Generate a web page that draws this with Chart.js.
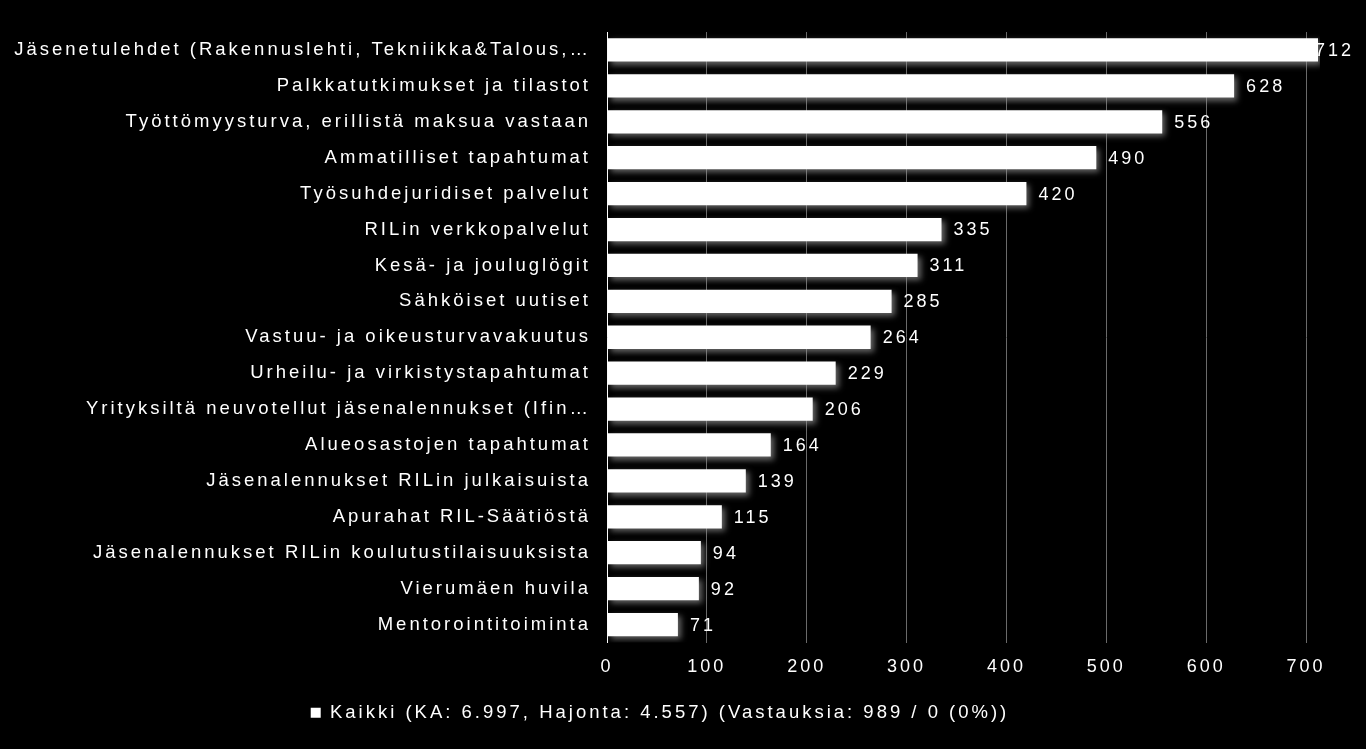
<!DOCTYPE html>
<html>
<head>
<meta charset="utf-8">
<script src="https://cdn.jsdelivr.net/npm/chart.js@4"></script>
<style>
  html, body { margin: 0; padding: 0; background: #000; }
  #wrap { width: 1366px; height: 749px; }
</style>
</head>
<body>
<div id="wrap"><canvas id="grafico"></canvas></div>
<script>
// Data
const categories = [
  'Jäsenetulehdet (Rakennuslehti, Tekniikka&Talous,…',
  'Palkkatutkimukset ja tilastot',
  'Työttömyysturva, erillistä maksua vastaan',
  'Ammatilliset tapahtumat',
  'Työsuhdejuridiset palvelut',
  'RILin verkkopalvelut',
  'Kesä- ja jouluglögit',
  'Sähköiset uutiset',
  'Vastuu- ja oikeusturvavakuutus',
  'Urheilu- ja virkistystapahtumat',
  'Yrityksiltä neuvotellut jäsenalennukset (Ifin…',
  'Alueosastojen tapahtumat',
  'Jäsenalennukset RILin julkaisuista',
  'Apurahat RIL-Säätiöstä',
  'Jäsenalennukset RILin koulutustilaisuuksista',
  'Vierumäen huvila',
  'Mentorointitoiminta'
];
const kaikki = [712, 628, 556, 490, 420, 335, 311, 285, 264, 229, 206, 164, 139, 115, 94, 92, 71];
const seriesLabel = 'Kaikki (KA: 6.997, Hajonta: 4.557) (Vastauksia: 989 / 0 (0%))';
const xTicks = [0, 100, 200, 300, 400, 500, 600, 700];

const FONT = "'Liberation Sans', Arial, sans-serif";
const SPACING = '3px';

// wide letter spacing like the original export
const spacingPlugin = {
  id: 'spacing',
  beforeUpdate(chart) { chart.ctx.letterSpacing = SPACING; },
  beforeLayout(chart) { chart.ctx.letterSpacing = SPACING; },
  beforeDraw(chart) { chart.ctx.letterSpacing = SPACING; }
};

// shadow under bars + value labels
const barExtras = {
  id: 'barExtras',
  beforeDatasetsDraw(chart) {
    const ctx = chart.ctx;
    ctx.save();
    ctx.shadowColor = 'rgba(150,150,150,0.7)';
    ctx.shadowBlur = 6;
    ctx.shadowOffsetX = 3;
    ctx.shadowOffsetY = 3;
  },
  afterDatasetsDraw(chart) {
    const ctx = chart.ctx;
    ctx.restore();
    ctx.save();
    ctx.letterSpacing = SPACING;
    ctx.font = '18px ' + FONT;
    ctx.fillStyle = '#fff';
    ctx.textBaseline = 'middle';
    ctx.textAlign = 'left';
    const meta = chart.getDatasetMeta(0);
    meta.data.forEach((bar, i) => {
      const txt = String(chart.data.datasets[0].data[i]);
      const w = ctx.measureText(txt).width;
      let x = bar.x + 12;
      if (x + w > chart.width - 12) x = chart.width - 12 - w;
      ctx.fillText(txt, x, bar.y + 1);
    });
    ctx.restore();
  }
};

new Chart(document.getElementById('grafico'), {
  type: 'bar',
  data: {
    labels: categories,
    datasets: [{
      label: seriesLabel,
      data: kaikki,
      backgroundColor: '#ffffff',
      borderWidth: 0,
      barPercentage: 0.72,
      categoryPercentage: 0.9
    }]
  },
  options: {
    indexAxis: 'y',
    responsive: true,
    maintainAspectRatio: false,
    animation: false,
    layout: { padding: { top: 32, right: 46, left: 0, bottom: 17 } },
    plugins: {
      legend: {
        position: 'bottom',
        labels: {
          color: '#fff',
          font: { family: FONT, size: 18.5 },
          boxWidth: 10,
          boxHeight: 10,
          padding: 12
        }
      },
      tooltip: { enabled: false },
      title: { display: false }
    },
    scales: {
      x: {
        min: 0,
        max: 714,
        afterBuildTicks(scale) {
          scale.ticks = xTicks.map(v => ({ value: v }));
        },
        afterFit(scale) { scale.height = 49; },
        grid: { color: '#6a6a6a', lineWidth: 1, drawTicks: false },
        border: { display: false },
        ticks: {
          color: '#fff',
          font: { family: FONT, size: 18 },
          padding: 14
        }
      },
      y: {
        afterFit(scale) { scale.width = 607; },
        grid: { display: false, drawTicks: false },
        border: { display: true, color: '#ffffff', width: 1 },
        ticks: {
          color: '#fff',
          font: { family: FONT, size: 18.5 },
          padding: 16,
          autoSkip: false
        }
      }
    }
  },
  plugins: [spacingPlugin, barExtras]
});
</script>
</body>
</html>
